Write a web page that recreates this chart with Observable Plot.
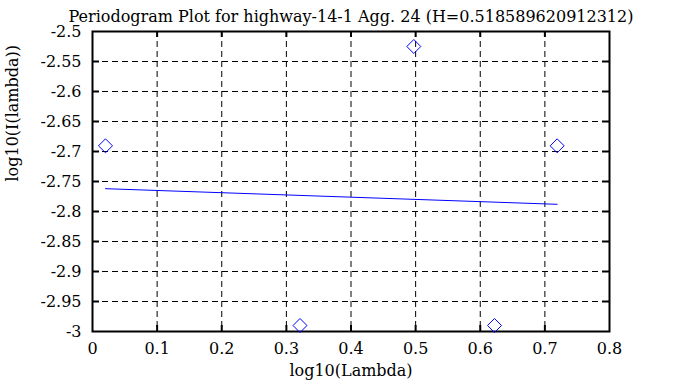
<!DOCTYPE html>
<html>
<head>
<meta charset="utf-8">
<script src="https://cdn.jsdelivr.net/npm/d3@7"></script>
<script src="https://cdn.jsdelivr.net/npm/@observablehq/plot@0.6"></script>
<style>
  html, body { margin: 0; padding: 0; background: #fff; }
  #chart svg, #chart svg text { font-family: "DejaVu Serif", serif !important; }
</style>
</head>
<body>
<div id="chart"></div>
<script>
const titleText = "Periodogram Plot for highway-14-1 Agg. 24 (H=0.518589620912312)";
const xLabel = "log10(Lambda)";
const yLabel = "log10(I(lambda))";

// periodogram points
const logLambda = [0.0201, 0.3211, 0.4972, 0.6221, 0.7190];
const logI = [-2.6905, -2.990, -2.525, -2.990, -2.6905];

// fitted line endpoints
const fitX = [0.0201, 0.7190];
const fitY = [-2.762, -2.788];

const xTicks = [0, 0.1, 0.2, 0.3, 0.4, 0.5, 0.6, 0.7, 0.8];
const yTicks = [-3, -2.95, -2.9, -2.85, -2.8, -2.75, -2.7, -2.65, -2.6, -2.55, -2.5];

const points = logLambda.map((x, i) => ({x, y: logI[i]}));
const fit = fitX.map((x, i) => ({x, y: fitY[i]}));
const xInner = xTicks.slice(1, -1);
const yInner = yTicks.slice(1, -1);

const W = 673, H = 387;
const mL = 92, mR = 64, mT = 31, mB = 56;
const fw = W - mL - mR, fh = H - mT - mB;

const chart = Plot.plot({
  width: W,
  height: H,
  marginLeft: mL,
  marginRight: mR,
  marginTop: mT,
  marginBottom: mB,
  style: {fontFamily: "DejaVu Serif", fontSize: "16px", background: "#fff", color: "#000"},
  x: {domain: [0, 0.8]},
  y: {domain: [-3, -2.5]},
  marks: [
    Plot.gridX(xInner, {stroke: "#000", strokeOpacity: 1, strokeWidth: 1, strokeDasharray: "6,4"}),
    Plot.gridY(yInner, {stroke: "#000", strokeOpacity: 1, strokeWidth: 1, strokeDasharray: "6,4"}),
    // inward ticks
    Plot.tickX(xInner, {x: d => d, insetTop: fh - 6, stroke: "#000", strokeWidth: 2}),
    Plot.tickX(xInner, {x: d => d, insetBottom: fh - 6, stroke: "#000", strokeWidth: 2}),
    Plot.tickY(yInner, {y: d => d, insetRight: fw - 7, stroke: "#000", strokeWidth: 2}),
    Plot.tickY(yInner, {y: d => d, insetLeft: fw - 7, stroke: "#000", strokeWidth: 2}),
    Plot.frame({stroke: "#000", strokeWidth: 2}),
    Plot.axisX({ticks: xTicks, tickSize: 0, tickPadding: 11, fontSize: 16, label: null, tickFormat: d => String(d)}),
    Plot.axisY({ticks: yTicks, tickSize: 0, tickPadding: 11, fontSize: 16, label: null, tickFormat: d => String(d).replace("\u2212", "-")}),
    Plot.line(fit, {x: "x", y: "y", stroke: "#0000ff", strokeWidth: 1}),
    Plot.dot(points, {x: "x", y: "y", symbol: "diamond2", r: 6.3, stroke: "#0000ff", strokeWidth: 1, fill: "none"}),
    Plot.text([titleText], {frameAnchor: "top", dy: -21, fontSize: 16, fill: "#000"}),
    Plot.text([xLabel], {frameAnchor: "bottom", dy: 44, fontSize: 16, fill: "#000"}),
    Plot.text([yLabel], {frameAnchor: "left", dx: -80, rotate: -90, fontSize: 16, fill: "#000"})
  ]
});
document.getElementById("chart").appendChild(chart);
</script>
</body>
</html>
